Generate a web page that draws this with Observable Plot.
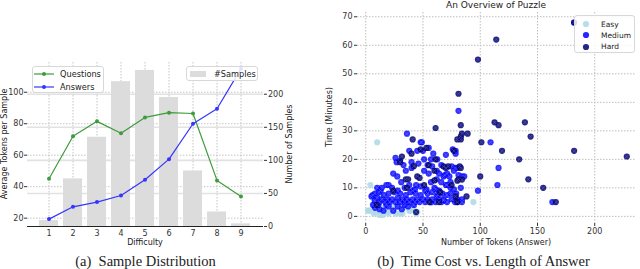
<!DOCTYPE html>
<html><head><meta charset="utf-8">
<script src="https://cdn.jsdelivr.net/npm/d3@7"></script>
<script src="https://cdn.jsdelivr.net/npm/@observablehq/plot@0.6"></script>
<style>
body{margin:0;background:#fff;}
#wrap{position:relative;width:640px;height:269px;overflow:hidden;font-family:"DejaVu Sans",sans-serif;color:#222;}
#wrap svg{position:absolute;}
.t{position:absolute;white-space:nowrap;line-height:1;}
.cap{font-family:"Liberation Serif","Times New Roman",serif;font-size:14.5px;transform:translate(-50%,-50%);}
.lab{font-size:8px;transform:translate(-50%,-50%);}
.rot{transform:translate(-50%,-50%) rotate(-90deg);}
.box{position:absolute;border:1px solid #d8d8d8;border-radius:3px;background:rgba(255,255,255,0.85);box-sizing:border-box;}
</style></head><body><div id="wrap"></div>
<script>
// ---- Panel (a) data
const difficulty = [1,2,3,4,5,6,7,8,9];
const samples = [9,72,135,219,236,195,84,22,4];
const questionTokens = [45,72,81.5,74,84,87,86.5,44,33.8];
const answerTokens = [19.4,27.2,30.2,34.4,44.4,57.5,80,89.5,115];
const leftTicks = [20,40,60,80,100];
const rightTicks = [0,50,100,150,200];

// ---- Panel (b) data: [tokens, minutes]
const easy = [[4,11],[10,26],[3,2],[7,1],[9,1.5],[12,0.5],[15,0.5],[19,1.5],[20,1],[22,4],[26,3],[26,1],[30,1],[32,1],[38,2],[39,2],[44,1],[45,1.5],[7,6],[13,7],[11,4],[6,4],[16,3],[28,4],[33,3],[36,5],[18,6],[57,4.7],[94,5],[2,2],[24,2],[14,2],[42,3]];
const medium = [[36,29],[48,26],[49,26],[55,24],[50,23],[38,23],[45,23],[59,22],[70,21.6],[76,23.5],[81,37],[109,26],[116,17],[115,11],[98,9],[163,5],[182,68],
[26,20.5],[30,19.5],[40,19],[46,18.5],[51,20],[58,17.5],[66,18],[75,17.5],[27,19],[33,18],[54,18],[62,16],[80,17],[78.5,23],[78.5,22],[62.5,20],[78,17],
[24,15],[27.5,14],[51,16],[55,15],[62,13],[64,15],[69,14.5],[73,14],[77,16],[81,14.5],[86,14],[35,16],[40,17],[57,20],[68,14],[71,15],[84,14],
[10,10],[14,10],[18,11],[23,10],[28,9],[34,10],[38,11],[43,9.5],[48,10.5],[53,9.5],[60,10],[64,9],[70,11],[74,10],[77,9.5],[83,10],[20,11],[31,12],[44,11],[57,12],[66,12],[71,11],[74,12],[61,9.5],
[8,8],[11.5,8.5],[16,7.5],[20,8],[25,8.5],[30,8],[35,7.5],[39,8.5],[43.5,8],[48,7.5],[54,8],[58,8.5],[63,7.5],[67,8],[71,7.5],[79,8],[5,7],[13,9],[41,9],[52,9],[74,8],
[6,7.5],[10,6.5],[14,6],[19,6],[23,6],[28,6.5],[32,6],[36,6],[41,6],[45,6],[50,6],[54,6],[58,6],[64,6],[68,6],[75,6],[80,6],[84,6],[12,5],[17,5],[21,5],[26,5],[30,5],[34,5],[38,5],[43,5],[47,5],[52,5],[57,5],[61,5],[66,5],[71,5],[78,5],[84,5],[8,5.5],[62,7],[68,5.5],[80,5],
[6.5,4],[8,3],[12,2.5],[15.5,2],[20,3.5],[24,2],[28,3.5],[31.5,2.5],[37,3.5],[18,4],[34,4],[42,4],[11,4]];
const hard = [[182,68],[114,62],[98,55],[81,43],[61,31],[83,32],[84,29],[89,29],[112.5,33],[116,32],[139,33],[144,28],[182,23],[228,21],[119,23],[134,20],[142,13],[155,10],[166,5],[100,14],[88,7],[101,26],
[41,27],[53,24],[80,27],[83,28],[83,27],[40,22],[48,23.5],[61,20],[77,23],[31.6,21],[42,17.6],[55,18],[68,17.5],[72,17.5],[82,17.5],[70,17],[83,17],[35,13],[37,13],[45,14],[47,13.5],[84,12.9],[81,13],[60,12.6],[36,10],[51,11],[65,8.5],[75,11],[80,12.5],[78.5,7],[55.6,5],[64,5],[80,5],[44,1.5],[9.6,4],[30,19],[24,9],[60,16]];
const xTicksB = [0,50,100,150,200];
const yTicksB = [0,10,20,30,40,50,60,70];

const wrap = document.getElementById("wrap");
const baseStyle = {fontFamily:"DejaVu Sans", fontSize:"8px", background:"transparent", color:"#333", overflow:"visible"};
function place(svg, left, top){ svg.style.left = left+"px"; svg.style.top = top+"px"; wrap.appendChild(svg); }
function addText(html, cls, x, y){ const d=document.createElement("div"); d.className="t "+cls; d.style.left=x+"px"; d.style.top=y+"px"; d.innerHTML=html; wrap.appendChild(d); return d; }

const rows = difficulty.map((d,i)=>({d, n:samples[i], q:questionTokens[i], a:answerTokens[i]}));
const common = {width:300, height:250, marginLeft:27, marginRight:37, marginTop:62, marginBottom:24, style:baseStyle};
const xBand = {type:"band", domain:difficulty, paddingInner:0.2, paddingOuter:0.45};
const leftDomain = [14.7,118.9];
const greenC = "#3d9c3d", blueC = "#3535ff";

// layer 1: left-axis grid
place(Plot.plot({...common, x:{...xBand, axis:null}, y:{domain:leftDomain, axis:null},
  marks:[
    Plot.gridX({stroke:"#c4c4c4", strokeOpacity:1, strokeDasharray:"1.5,1.5"}),
    Plot.gridY({ticks:leftTicks, stroke:"#c4c4c4", strokeOpacity:1, strokeDasharray:"1.5,1.5"})
  ]}), 0, 0);

// layer 2: bars on right axis
place(Plot.plot({...common, x:{...xBand, axis:null}, y:{domain:[0,248], axis:null},
  marks:[
    Plot.gridY({ticks:rightTicks.slice(1), stroke:"#e2e2e2", strokeOpacity:1, strokeWidth:1.6}),
    Plot.barY(rows, {x:"d", y:"n", fill:"#dcdcdc"}),
    Plot.axisY({anchor:"right", ticks:rightTicks, tickSize:3, tickPadding:1.5, label:null, stroke:"#333"})
  ]}), 0, 0);

// layer 3: lines on left axis
place(Plot.plot({...common, x:{...xBand}, y:{domain:leftDomain},
  marks:[
    Plot.axisX({tickSize:0, tickPadding:4, label:null}),
    Plot.axisY({ticks:leftTicks, tickSize:3, tickPadding:1, label:null}),
    Plot.ruleY([leftDomain[0]], {stroke:"#222", strokeWidth:1}),
    Plot.line(rows, {x:"d", y:"q", stroke:greenC, strokeWidth:1.2}),
    Plot.dot(rows, {x:"d", y:"q", fill:greenC, r:2}),
    Plot.line(rows, {x:"d", y:"a", stroke:blueC, strokeWidth:1.2}),
    Plot.dot(rows, {x:"d", y:"a", fill:blueC, r:2})
  ]}), 0, 0);

// panel (b)
const crossM = "#7a7aff", crossH = "#5a5ab8";
place(Plot.plot({width:320, height:250, marginLeft:37, marginRight:5, marginTop:12, marginBottom:27, style:baseStyle,
  x:{domain:[-7.2,235.6]}, y:{domain:[-2.5,71.5]},
  marks:[
    Plot.gridX({ticks:xTicksB, stroke:"#bdbdbd", strokeOpacity:1, strokeDasharray:"1.5,1.5"}),
    Plot.gridY({ticks:yTicksB, stroke:"#bdbdbd", strokeOpacity:1, strokeDasharray:"1.5,1.5"}),
    Plot.axisX({ticks:xTicksB, tickSize:3, tickPadding:2, label:null}),
    Plot.axisY({ticks:yTicksB, tickSize:3, tickPadding:2, label:null}),
    Plot.dot(easy, {x:d=>d[0], y:d=>d[1], r:3.1, fill:"#add8e6", fillOpacity:0.85}),
    Plot.dot(medium, {x:d=>d[0], y:d=>d[1], r:3.1, fill:"#0000ff", fillOpacity:0.82}),
    Plot.dot(medium, {x:d=>d[0], y:d=>d[1], r:1.8, symbol:"times", stroke:crossM, strokeWidth:0.6, strokeOpacity:0.7}),
    Plot.dot(hard, {x:d=>d[0], y:d=>d[1], r:3.1, fill:"#00006e", fillOpacity:0.85}),
    Plot.dot(hard, {x:d=>d[0], y:d=>d[1], r:1.8, symbol:"times", stroke:crossH, strokeWidth:0.7, strokeOpacity:0.8})
  ]}), 320, 0);

// labels & captions
addText("Average Tokens per Sample", "lab rot", 5, 144);
addText("Number of Samples", "lab rot", 289.5, 144);
addText("Difficulty", "lab", 145, 243);
addText("(a)&nbsp; Sample Distribution", "cap", 145.5, 261);
addText("An Overview of Puzzle", "lab", 496, 4.5).style.fontSize = "9px";
addText("Time (Minutes)", "lab rot", 330, 117);
addText("Number of Tokens (Answer)", "lab", 496, 243);
addText("(b)&nbsp; Time Cost vs. Length of Answer", "cap", 483.5, 261);

// legends
function box(l,t,w,h,inner){ const d=document.createElement("div"); d.className="box"; Object.assign(d.style,{left:l+"px",top:t+"px",width:w+"px",height:h+"px"}); d.innerHTML=inner; wrap.appendChild(d); }
const lineSw = c => `<svg width="22" height="8" style="position:absolute;left:0;top:0"><line x1="1" y1="4" x2="21" y2="4" stroke="${c}" stroke-width="1.2"/><circle cx="11" cy="4" r="2" fill="${c}"/></svg>`;
box(32,66,72,27,
  `<div style="position:absolute;left:0;top:3px;width:70px;height:9px">${lineSw(greenC)}<span class="t" style="left:27px;top:0;font-size:8.2px">Questions</span></div>`+
  `<div style="position:absolute;left:0;top:16px;width:70px;height:9px">${lineSw(blueC)}<span class="t" style="left:27px;top:0;font-size:8.2px">Answers</span></div>`);
box(186,66,72,15,
  `<div style="position:absolute;left:3px;top:4px;width:16px;height:6px;background:#dcdcdc"></div><span class="t" style="left:27px;top:3px;font-size:8.2px">#Samples</span>`);
const dotSw = c => `<svg width="8" height="8" style="position:absolute;left:7px;top:0"><circle cx="4" cy="4" r="3.1" fill="${c}" fill-opacity="0.85"/></svg>`;
box(574,15,61,38,
  `<div style="position:absolute;left:0;top:4px;width:60px;height:8px">${dotSw("#add8e6")}<span class="t" style="left:26px;top:0.5px;font-size:7.5px">Easy</span></div>`+
  `<div style="position:absolute;left:0;top:15px;width:60px;height:8px">${dotSw("#0000ff")}<span class="t" style="left:26px;top:0.5px;font-size:7.5px">Medium</span></div>`+
  `<div style="position:absolute;left:0;top:26.5px;width:60px;height:8px">${dotSw("#00006e")}<span class="t" style="left:26px;top:0.5px;font-size:7.5px">Hard</span></div>`);
</script></body></html>
